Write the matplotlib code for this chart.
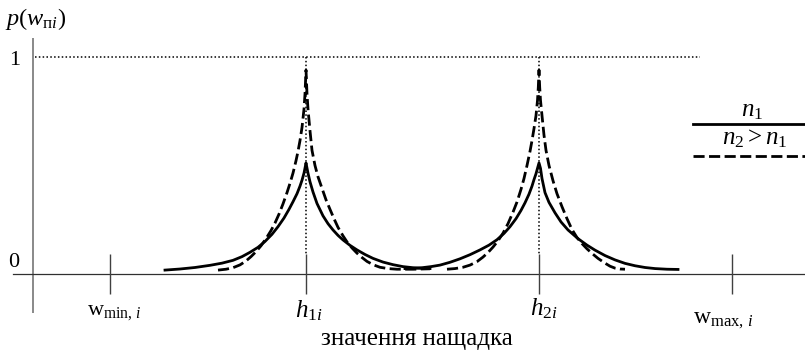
import matplotlib
matplotlib.use("Agg")
import matplotlib.pyplot as plt

plt.rcParams['font.family'] = ['Liberation Serif', 'DejaVu Serif']
plt.rcParams['mathtext.fontset'] = 'custom'
plt.rcParams['mathtext.rm'] = 'Liberation Serif'
plt.rcParams['mathtext.it'] = 'Liberation Serif:italic'
plt.rcParams['mathtext.bf'] = 'Liberation Serif:bold'

# ---- data (x in horizontal units of the sketch, y = probability) ----
tick_positions = [110, 306, 539, 732]          # w_min, h1, h2, w_max
tick_labels = [r'$\mathrm{w}_{\mathrm{min,}\,i}$', r'$h_{\mathrm{1}i}$',
               r'$h_{\mathrm{2}i}$', r'$\mathrm{w}_{\mathrm{max,}\,i}$']
peak_positions = [306, 539]

solid_h1_x = [165, 180, 195, 210, 222, 233, 242, 250, 258, 265, 272, 278, 284, 289, 293, 297,
              300, 302, 304, 305, 306,
              307, 308, 310, 313, 317, 323, 328, 333, 338, 343, 350, 357, 365, 373, 383,
              393, 403, 413, 422, 430]
solid_h1_y = [0.018, 0.023, 0.030, 0.040, 0.050, 0.063, 0.080, 0.100, 0.123, 0.150, 0.183, 0.218,
              0.258, 0.298, 0.333, 0.370, 0.405, 0.432, 0.465, 0.488, 0.512,
              0.488, 0.465, 0.425, 0.378, 0.325, 0.268, 0.232, 0.203, 0.178, 0.157, 0.132,
              0.111, 0.090, 0.072, 0.055, 0.043, 0.034, 0.029, 0.026, 0.025]

solid_h2_x = [405, 413, 422, 431, 440, 450, 460, 470, 480, 489, 497, 504, 510, 516, 521, 525,
              529, 532, 534, 536, 537.5, 539,
              540.5, 542, 545, 549, 555, 561, 568, 578, 587, 595, 605, 615, 625, 635, 645,
              655, 667, 678]
solid_h2_y = [0.025, 0.026, 0.029, 0.034, 0.041, 0.054, 0.070, 0.089, 0.111, 0.133, 0.158,
              0.187, 0.218, 0.255, 0.293, 0.328, 0.368, 0.405, 0.435, 0.462, 0.487, 0.512,
              0.487, 0.44, 0.375, 0.33, 0.282, 0.24, 0.203, 0.163, 0.133, 0.110, 0.085,
              0.065, 0.049, 0.038, 0.030, 0.025, 0.022, 0.021]

dashed_h1_x = [218, 226, 233, 240, 246, 251, 256, 261, 266, 271, 275, 279, 283, 287, 290, 293,
               296, 298, 300, 302, 304, 305, 306,
               307, 308, 310, 312, 315, 318, 322, 326, 330, 334, 338, 343, 347, 352, 357,
               362, 367, 373, 380, 388, 397, 413, 430]
dashed_h1_y = [0.018, 0.022, 0.029, 0.042, 0.060, 0.080, 0.103, 0.130, 0.163, 0.200, 0.235,
               0.276, 0.323, 0.375, 0.418, 0.465, 0.522, 0.565, 0.615, 0.675, 0.76, 0.83, 0.94,
               0.83, 0.76, 0.66, 0.57, 0.50, 0.448, 0.395, 0.342, 0.298, 0.255, 0.215, 0.176,
               0.148, 0.120, 0.096, 0.076, 0.058, 0.043, 0.031, 0.025, 0.022, 0.022, 0.024]

dashed_h2_x = [447, 455, 463, 470, 477, 483, 488, 493, 498, 503, 508, 513, 517, 521, 524, 527,
               530, 532, 534, 536, 537.5, 538.3, 539,
               539.7, 540.5, 542, 544, 546, 549, 553, 557, 562, 567, 572, 577, 582, 587, 592,
               598, 605, 610, 615, 620, 625]
dashed_h2_y = [0.022, 0.025, 0.031, 0.041, 0.057, 0.078, 0.099, 0.124, 0.153, 0.188, 0.232,
               0.285, 0.332, 0.39, 0.44, 0.50, 0.565, 0.615, 0.67, 0.73, 0.80, 0.86, 0.94,
               0.86, 0.80, 0.73, 0.64, 0.57, 0.50, 0.43, 0.37, 0.31, 0.255, 0.205, 0.168,
               0.140, 0.116, 0.095, 0.072, 0.050, 0.036, 0.027, 0.023, 0.022]

legend_labels = [r'$n_1$', r'$n_2 > n_1$']

# ---- figure ----
W, H = 805, 355
fig = plt.figure(figsize=(W / 100, H / 100), dpi=100)
ax = fig.add_axes([0, 0, 1, 1])
ax.set_xlim(0, W)
y0_px, unit_px = 274, 217
ax.set_ylim((y0_px - H) / unit_px, y0_px / unit_px)
ax.axis('off')

fs = 18
lw_curve = 2.0
dash = (4, 1.6)
dotted = (0, (1, 1.5))

# axes lines
ax.plot([33, 33], [1.088, -0.18], color='#808080', lw=1.3, solid_capstyle='butt')
ax.plot([13, W], [0, 0], color='#303030', lw=0.9)
for xp in tick_positions:
    ax.plot([xp, xp], [0.092, -0.092], color='#404040', lw=1.0, solid_capstyle='butt')

# dotted reference lines
ax.plot([35, 700], [1, 1], color='black', lw=1.1, linestyle=dotted)
for xp in peak_positions:
    ax.plot([xp, xp], [1, 0.092], color='black', lw=1.1, linestyle=dotted)

# curves
ax.plot(solid_h1_x, solid_h1_y, color='black', lw=lw_curve, solid_joinstyle='round')
ax.plot(solid_h2_x, solid_h2_y, color='black', lw=lw_curve, solid_joinstyle='round')
ax.plot(dashed_h1_x, dashed_h1_y, color='black', lw=lw_curve, dashes=dash)
ax.plot(dashed_h2_x, dashed_h2_y, color='black', lw=lw_curve, dashes=dash)

# legend (drawn manually)
ax.plot([693, W], [0.691, 0.691], color='black', lw=lw_curve)
ax.plot([693, W], [0.544, 0.544], color='black', lw=lw_curve, dashes=dash)
ax.text(752, 0.724, legend_labels[0], fontsize=fs, ha='center', va='baseline')
ax.text(755, 0.598, legend_labels[1], fontsize=fs, ha='center', va='baseline')

# texts
ax.text(5, 1.147, r'$p(w_{\mathrm{п}i})$', fontsize=fs - 0.5, ha='left', va='baseline')
ax.text(15, 0.963, '1', fontsize=16, ha='center', va='baseline')
ax.text(13.5, 0.032, '0', fontsize=16, ha='center', va='baseline')
label_x = [87, 295, 530, 693]
label_y = [-0.189, -0.198, -0.189, -0.226]
label_fs = [16, 18, 18, 17]
for lx, ly, lab, lf in zip(label_x, label_y, tick_labels, label_fs):
    ax.text(lx, ly, lab, fontsize=lf, ha='left', va='baseline')
ax.text(417, -0.327, 'значення нащадка', fontsize=fs, ha='center', va='baseline')

fig.savefig('out.png', dpi=100)
